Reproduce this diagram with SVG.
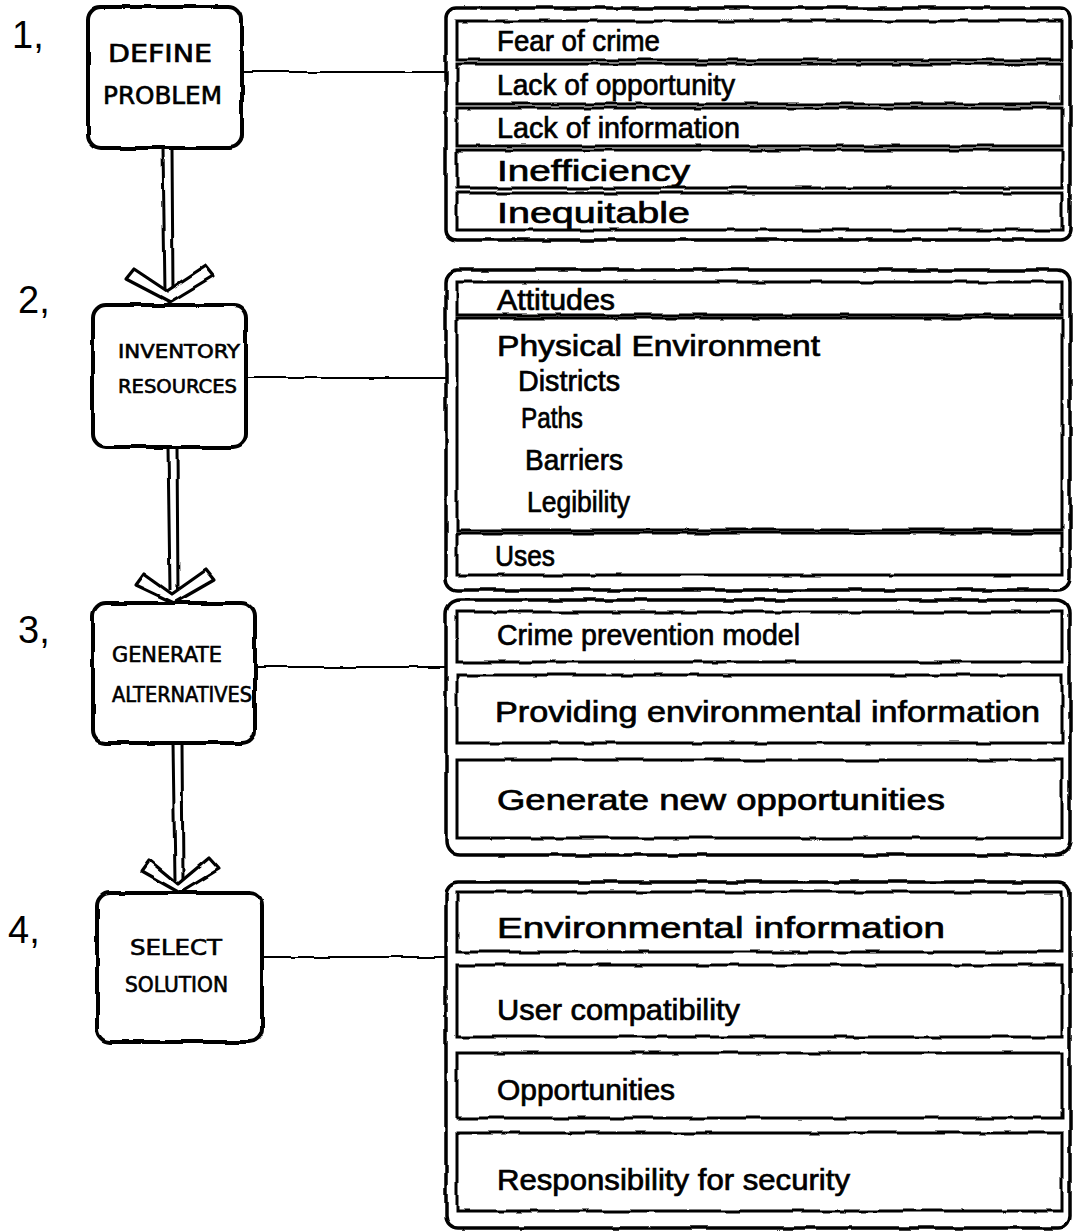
<svg xmlns="http://www.w3.org/2000/svg" width="1073" height="1232" viewBox="0 0 1073 1232">
  <defs>
    <!-- slight wobble so ruled lines read as pen strokes -->
    <filter id="pen" x="-5%" y="-5%" width="110%" height="110%">
      <feTurbulence type="fractalNoise" baseFrequency="0.035" numOctaves="2" seed="7" result="n"/>
      <feDisplacementMap in="SourceGraphic" in2="n" scale="3.5" xChannelSelector="R" yChannelSelector="G"/>
    </filter>
    <style>
      .step { fill: #fff; stroke: #000; stroke-width: 4; }
      .frame { fill: #fff; stroke: #000; stroke-width: 3.5; }
      .row { fill: none; stroke: #000; stroke-width: 3; }
      .link { fill: none; stroke: #000; stroke-width: 2.2; }
      .shaft { fill: none; stroke: #000; stroke-width: 3; }
      .head { fill: #fff; stroke: #000; stroke-width: 3.2; stroke-linejoin: round; }
      .cap { font-family: "DejaVu Sans Condensed", "Liberation Sans Narrow", "Liberation Sans", sans-serif; font-size: 24px; fill: #000; stroke: #000; stroke-width: 0.6; }
      .num { font-family: "Liberation Sans", sans-serif; font-size: 38px; fill: #000; }
      .item { font-family: "Liberation Sans", "DejaVu Sans", sans-serif; font-size: 29px; fill: #000; stroke: #000; stroke-width: 0.7; }
    </style>
  </defs>

  <rect width="1073" height="1232" fill="#fff"/>

  <!-- connectors: horizontal leaders and hollow down arrows -->
  <g id="connectors" filter="url(#pen)">
    <path class="link" d="M242 72 L446 72"/>
    <path class="link" d="M246 378 L446 378"/>
    <path class="link" d="M255 667 L446 667"/>
    <path class="link" d="M262 957 L446 957"/>

    <path class="shaft" d="M163 148 L165 292 M172 148 L173 292"/>
    <polygon class="head" points="126,279 134,269 167,291 205,266 213,276 170,302"/>

    <path class="shaft" d="M168 447 L170 590 M177 447 L178 590"/>
    <polygon class="head" points="136,585 144,574 172,594 206,570 214,580 174,603"/>

    <path class="shaft" d="M173 743 L175 880 M182 743 L183 880"/>
    <polygon class="head" points="141,871 149,860 178,884 209,858 219,869 180,893"/>
  </g>

  <!-- step boxes -->
  <g id="step1">
    <rect class="step" x="88" y="7" width="154" height="141" rx="13" filter="url(#pen)"/>
    <text class="num" x="12" y="48">1,</text>
    <text class="cap" x="108" y="62" textLength="104" lengthAdjust="spacingAndGlyphs">DEFINE</text>
    <text class="cap" x="103" y="104" textLength="119" lengthAdjust="spacingAndGlyphs">PROBLEM</text>
  </g>
  <g id="step2">
    <rect class="step" x="93" y="305" width="153" height="142" rx="13" filter="url(#pen)"/>
    <text class="num" x="18" y="313">2,</text>
    <text class="cap" x="118" y="358" textLength="122" lengthAdjust="spacingAndGlyphs" style="font-size:20px">INVENTORY</text>
    <text class="cap" x="118" y="393" textLength="119" lengthAdjust="spacingAndGlyphs" style="font-size:20px">RESOURCES</text>
  </g>
  <g id="step3">
    <rect class="step" x="93" y="603" width="162" height="140" rx="13" filter="url(#pen)"/>
    <text class="num" x="18" y="643">3,</text>
    <text class="cap" x="112" y="662" textLength="110" lengthAdjust="spacingAndGlyphs" style="font-size:21px">GENERATE</text>
    <text class="cap" x="112" y="702" textLength="140" lengthAdjust="spacingAndGlyphs" style="font-size:21px">ALTERNATIVES</text>
  </g>
  <g id="step4">
    <rect class="step" x="97" y="893" width="165" height="149" rx="13" filter="url(#pen)"/>
    <text class="num" x="8" y="943">4,</text>
    <text class="cap" x="130" y="955" textLength="92" lengthAdjust="spacingAndGlyphs" style="font-size:21px">SELECT</text>
    <text class="cap" x="125" y="992" textLength="103" lengthAdjust="spacingAndGlyphs" style="font-size:21px">SOLUTION</text>
  </g>

  <!-- list 1: problems -->
  <g id="problems">
    <g filter="url(#pen)">
      <rect class="frame" x="446" y="8" width="624" height="232" rx="10"/>
      <rect class="row" x="457" y="21" width="605" height="39"/>
      <rect class="row" x="457" y="64" width="605" height="40"/>
      <rect class="row" x="457" y="108" width="605" height="38"/>
      <rect class="row" x="457" y="150" width="605" height="38"/>
      <rect class="row" x="457" y="193" width="605" height="37"/>
    </g>
    <text class="item" x="497" y="51" textLength="163" lengthAdjust="spacingAndGlyphs">Fear of crime</text>
    <text class="item" x="497" y="95" textLength="238" lengthAdjust="spacingAndGlyphs">Lack of opportunity</text>
    <text class="item" x="497" y="138" textLength="243" lengthAdjust="spacingAndGlyphs">Lack of information</text>
    <text class="item" x="497" y="181" textLength="193" lengthAdjust="spacingAndGlyphs">Inefficiency</text>
    <text class="item" x="497" y="223" textLength="193" lengthAdjust="spacingAndGlyphs">Inequitable</text>
  </g>

  <!-- list 2: resources -->
  <g id="resources">
    <g filter="url(#pen)">
      <rect class="frame" x="446" y="270" width="624" height="320" rx="12"/>
      <rect class="row" x="457" y="282" width="605" height="33"/>
      <rect class="row" x="457" y="318" width="605" height="212"/>
      <rect class="row" x="457" y="533" width="605" height="42"/>
    </g>
    <text class="item" x="497" y="310" textLength="118" lengthAdjust="spacingAndGlyphs">Attitudes</text>
    <text class="item" x="497" y="356" textLength="323" lengthAdjust="spacingAndGlyphs">Physical Environment</text>
    <text class="item" x="518" y="391" textLength="102" lengthAdjust="spacingAndGlyphs">Districts</text>
    <text class="item" x="521" y="428" textLength="62" lengthAdjust="spacingAndGlyphs">Paths</text>
    <text class="item" x="525" y="470" textLength="98" lengthAdjust="spacingAndGlyphs">Barriers</text>
    <text class="item" x="527" y="512" textLength="103" lengthAdjust="spacingAndGlyphs">Legibility</text>
    <text class="item" x="495" y="566" textLength="60" lengthAdjust="spacingAndGlyphs">Uses</text>
  </g>

  <!-- list 3: alternatives -->
  <g id="alternatives">
    <g filter="url(#pen)">
      <rect class="frame" x="446" y="600" width="624" height="255" rx="14"/>
      <rect class="row" x="457" y="612" width="605" height="50"/>
      <rect class="row" x="457" y="675" width="605" height="68"/>
      <rect class="row" x="457" y="760" width="605" height="78"/>
    </g>
    <text class="item" x="497" y="645" textLength="303" lengthAdjust="spacingAndGlyphs">Crime prevention model</text>
    <text class="item" x="495" y="722" textLength="545" lengthAdjust="spacingAndGlyphs">Providing environmental information</text>
    <text class="item" x="497" y="810" textLength="448" lengthAdjust="spacingAndGlyphs">Generate new opportunities</text>
  </g>

  <!-- list 4: solution criteria -->
  <g id="solution">
    <g filter="url(#pen)">
      <rect class="frame" x="446" y="882" width="624" height="346" rx="12"/>
      <rect class="row" x="457" y="892" width="605" height="60"/>
      <rect class="row" x="457" y="965" width="605" height="72"/>
      <rect class="row" x="457" y="1053" width="605" height="65"/>
      <rect class="row" x="457" y="1133" width="605" height="78"/>
    </g>
    <text class="item" x="497" y="938" textLength="448" lengthAdjust="spacingAndGlyphs">Environmental information</text>
    <text class="item" x="497" y="1020" textLength="243" lengthAdjust="spacingAndGlyphs">User compatibility</text>
    <text class="item" x="497" y="1100" textLength="178" lengthAdjust="spacingAndGlyphs">Opportunities</text>
    <text class="item" x="497" y="1190" textLength="353" lengthAdjust="spacingAndGlyphs">Responsibility for security</text>
  </g>
</svg>
